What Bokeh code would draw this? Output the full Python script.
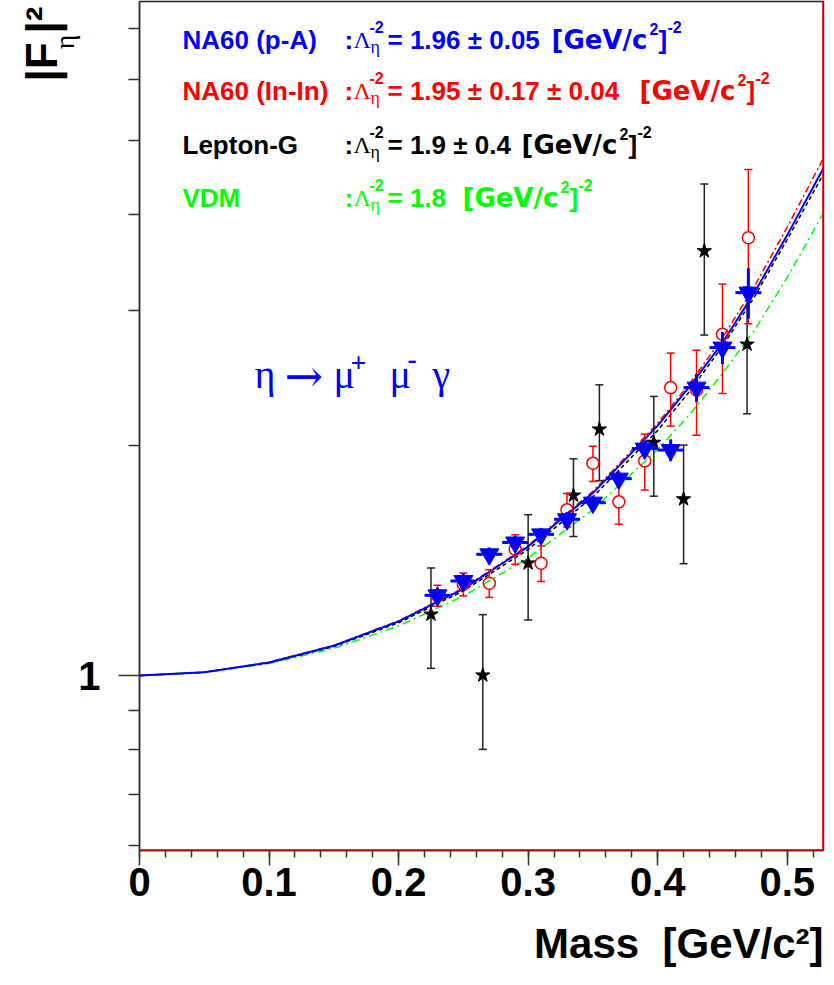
import math
from bokeh.plotting import figure
from bokeh.models import Label, Span, FixedTicker, ColumnDataSource, Title
from bokeh.embed import file_html
from bokeh.resources import INLINE

# fitted form factor curves
curve_x = [0.0, 0.05, 0.10, 0.15, 0.20, 0.25, 0.30, 0.35, 0.40, 0.425, 0.45, 0.475, 0.50, 0.528]
curve_na60_pa = [1.000, 1.010, 1.040, 1.094, 1.177, 1.298, 1.474, 1.731, 2.120, 2.390, 2.720, 3.170, 3.760, 4.600]
curve_na60_inin = [1.000, 1.010, 1.041, 1.095, 1.179, 1.301, 1.479, 1.740, 2.135, 2.410, 2.760, 3.230, 3.850, 4.740]
curve_lepton = [1.000, 1.010, 1.039, 1.091, 1.172, 1.290, 1.461, 1.711, 2.090, 2.355, 2.690, 3.130, 3.710, 4.520]
curve_vdm = [1.000, 1.009, 1.037, 1.085, 1.161, 1.270, 1.424, 1.646, 1.973, 2.195, 2.480, 2.830, 3.310, 4.020]

# NA60 p-A (blue triangles)
pa_x = [0.23, 0.25, 0.27, 0.29, 0.31, 0.33, 0.35, 0.37, 0.39, 0.41, 0.43, 0.45, 0.47]
pa_y = [1.273, 1.329, 1.440, 1.492, 1.529, 1.600, 1.682, 1.808, 1.979, 1.970, 2.377, 2.681, 3.163]
pa_err = [0.03, 0.03, 0.03, 0.03, 0.03, 0.035, 0.035, 0.04, 0.05, 0.065, 0.10, 0.13, 0.24]
pa_binhalf = 0.01

# NA60 In-In (red open circles)
inin_x = [0.23, 0.25, 0.27, 0.29, 0.31, 0.33, 0.35, 0.37, 0.39, 0.41, 0.43, 0.45, 0.47]
inin_y = [1.272, 1.316, 1.320, 1.462, 1.402, 1.646, 1.893, 1.686, 1.907, 2.377, 2.360, 2.790, 3.730]
inin_err = [0.04, 0.045, 0.055, 0.065, 0.075, 0.083, 0.10, 0.11, 0.16, 0.26, 0.30, 0.455, 0.85]

# Lepton-G (black stars)
lg_x = [0.225, 0.265, 0.300, 0.335, 0.355, 0.397, 0.420, 0.436, 0.469]
lg_y = [1.202, 1.001, 1.402, 1.719, 2.097, 2.015, 1.700, 3.584, 2.707]
lg_err = [0.18, 0.20, 0.22, 0.20, 0.30, 0.30, 0.30, 0.80, 0.51]

x_ticks = [0, 0.1, 0.2, 0.3, 0.4, 0.5]
x_tick_labels = ["0", "0.1", "0.2", "0.3", "0.4", "0.5"]

legend_names = ["NA60 (p-A)", "NA60 (In-In)", "Lepton-G", "VDM"]
legend_values = ["= 1.96 \u00b1 0.05", "= 1.95 \u00b1 0.17 \u00b1 0.04", "= 1.9 \u00b1 0.4", "= 1.8"]
legend_colors = ["#0000ff", "#ff0000", "#000000", "#00ff00"]

X0, X1 = 0.0, 0.528
Y0, Y1 = 0.591, 7.59
W, H = 826, 969
BL, BR, BT, BB = 139, 3, 1, 119

# page pixel -> data, for placing the texts
L, R, T, B = 8 + BL, 8 + W - BR, 8 + BT, 8 + H - BB
def px_x(px):
    return X0 + (px - L) / (R - L) * (X1 - X0)
def px_y(py):
    ly0, ly1 = math.log10(Y0), math.log10(Y1)
    return 10 ** (ly1 - (py - T) / (B - T) * (ly1 - ly0))

p = figure(width=W, height=H, x_range=(X0, X1), y_range=(Y0, Y1),
           y_axis_type="log", output_backend="svg", toolbar_location=None,
           min_border_left=BL, min_border_right=BR, min_border_top=BT,
           min_border_bottom=BB)
p.grid.visible = False
p.outline_line_color = "#222222"
p.outline_line_width = 1.5

FONT = "Liberation Sans"
SERIF = "Liberation Serif"

# axes
p.xaxis.ticker = FixedTicker(ticks=x_ticks, minor_ticks=[i * 0.02 for i in range(27)])
p.xaxis.major_label_overrides = dict(zip(x_ticks, x_tick_labels))
p.yaxis.ticker = FixedTicker(ticks=[1], minor_ticks=[0.6, 0.7, 0.8, 0.9, 2, 3, 4, 5, 6, 7])
p.yaxis.major_label_overrides = {1: "1"}
for ax in (p.xaxis, p.yaxis):
    ax.axis_line_color = "#333333"
    ax.axis_line_width = 1.5
    ax.major_tick_line_color = "#333333"
    ax.minor_tick_line_color = "#333333"
    ax.major_tick_line_width = 1.5
    ax.minor_tick_line_width = 1.5
    ax.major_tick_in = 0
    ax.minor_tick_in = 0
    ax.major_label_text_font = FONT
    ax.major_label_text_font_style = "bold"
    ax.major_label_text_font_size = "40px"
    ax.major_label_text_color = "black"
p.xaxis.major_tick_out = 15
p.xaxis.minor_tick_out = 7
p.xaxis.major_label_standoff = 2
p.yaxis.major_tick_out = 21
p.yaxis.minor_tick_out = 11
p.yaxis.major_label_standoff = 18

# axis titles live in the side panels (a blank title works as a spacer)
p.add_layout(Title(text="\u00a0", text_font_size="1px", standoff=16), "below")
p.add_layout(Title(text="Mass\u00a0\u00a0[GeV/c\u00b2]", align="right", text_font=FONT,
                   text_font_style="bold", text_font_size="42px", text_color="black",
                   standoff=0), "below")
p.add_layout(Title(text="\u03b7", align="right", vertical_align="top", text_font=SERIF,
                   text_font_style="normal", text_font_size="28px", text_color="black",
                   standoff=-13, offset=33), "left")
p.add_layout(Title(text="|F\u2009|\u00b2", align="right", text_font=FONT,
                   text_font_style="bold", text_font_size="44px", text_color="black",
                   standoff=-20, offset=5), "left")

# red frame edges
p.add_layout(Span(location=X1, dimension="height", line_color="#ff0000", line_width=2.5))
p.add_layout(Span(location=Y0, dimension="width", line_color="#ff0000", line_width=2.5))

# curves
p.line(curve_x, curve_vdm, line_color="#00ff00", line_width=1.5, line_dash="8 4 2 4")
p.line(curve_x, curve_lepton, line_color="#000000", line_width=1.5, line_dash="4 3")
p.line(curve_x, curve_na60_inin, line_color="#ff0000", line_width=1.5, line_dash="7 3 2 3")
p.line(curve_x, curve_na60_pa, line_color="#0000ff", line_width=2)

# Lepton-G
lg = ColumnDataSource(dict(x=lg_x, y=lg_y,
                           lo=[y - e for y, e in zip(lg_y, lg_err)],
                           hi=[y + e for y, e in zip(lg_y, lg_err)]))
p.segment(x0="x", y0="lo", x1="x", y1="hi", source=lg, line_color="#222222", line_width=1.5)
p.scatter(x="x", y="lo", source=lg, marker="dash", size=8, line_color="#222222", line_width=1.5)
p.scatter(x="x", y="hi", source=lg, marker="dash", size=8, line_color="#222222", line_width=1.5)
p.scatter(x="x", y="y", source=lg, marker="star", size=15, fill_color="black", line_color="black")

# NA60 In-In, bars stop at the circle edge
gap = 1.018
inin = ColumnDataSource(dict(x=inin_x, y=inin_y,
                             lo=[y - e for y, e in zip(inin_y, inin_err)],
                             hi=[y + e for y, e in zip(inin_y, inin_err)],
                             lo_in=[y / gap for y in inin_y],
                             hi_in=[y * gap for y in inin_y]))
p.segment(x0="x", y0="lo", x1="x", y1="lo_in", source=inin, line_color="#ff0000", line_width=1.5)
p.segment(x0="x", y0="hi_in", x1="x", y1="hi", source=inin, line_color="#ff0000", line_width=1.5)
p.scatter(x="x", y="lo", source=inin, marker="dash", size=8, line_color="#ff0000", line_width=1.5)
p.scatter(x="x", y="hi", source=inin, marker="dash", size=8, line_color="#ff0000", line_width=1.5)
p.scatter(x="x", y="y", source=inin, marker="circle", size=12, fill_alpha=0,
          line_color="#ff0000", line_width=1.5)

# NA60 p-A
xgap = 0.005
pa = ColumnDataSource(dict(x=pa_x, y=pa_y,
                           lo=[y - e for y, e in zip(pa_y, pa_err)],
                           hi=[y + e for y, e in zip(pa_y, pa_err)],
                           xl0=[x - pa_binhalf for x in pa_x], xl1=[x - xgap for x in pa_x],
                           xr0=[x + xgap for x in pa_x], xr1=[x + pa_binhalf for x in pa_x]))
p.segment(x0="xl0", y0="y", x1="xl1", y1="y", source=pa, line_color="#0000ff", line_width=3)
p.segment(x0="xr0", y0="y", x1="xr1", y1="y", source=pa, line_color="#0000ff", line_width=3)
p.segment(x0="x", y0="lo", x1="x", y1="hi", source=pa, line_color="#0000ff", line_width=3)
p.scatter(x="x", y="y", source=pa, marker="inverted_triangle", size=19,
          fill_color="#0000ff", line_color="#0000ff")

def label(px, py, text, color="black", size=26, font=FONT, style="bold"):
    p.add_layout(Label(x=px_x(px), y=px_y(py), text=text, text_color=color,
                       text_font=font, text_font_style=style, text_font_size=f"{size}px",
                       text_align="left", text_baseline="alphabetic"))

# legend lines
bases = [47, 98, 152, 205]
bracket_x = [559, 647, 529, 470]
for name, val, col, base, bx in zip(legend_names, legend_values, legend_colors, bases, bracket_x):
    label(190, base, name, col)
    label(352, base, ":", col)
    label(361, base, "\u039b", col, size=24, font=SERIF, style="normal")
    label(377, base - 13, "-2", col, size=16)
    label(378, base + 7, "\u03b7", col, size=18, font=SERIF, style="normal")
    label(395, base, val, col)
    label(bx, base, "[GeV/c", col, size=26, font="DejaVu Sans")
    label(bx + 98, base - 11, "2", col, size=16)
    label(bx + 107, base, "]", col)
    label(bx + 116, base - 13, "-2", col, size=16)

# decay label
BLUE = "#0000ff"
label(262, 382, "\u03b7", BLUE, size=40, font=SERIF, style="normal")
label(292, 383, "\u2192", BLUE, size=46, font="DejaVu Serif", style="normal")
label(341, 382, "\u03bc", BLUE, size=40, font=SERIF, style="normal")
label(358, 370, "+", BLUE, size=28, font=SERIF, style="bold")
label(397, 382, "\u03bc", BLUE, size=40, font=SERIF, style="normal")
label(415, 366, "-", BLUE, size=28, font=SERIF, style="bold")
label(440, 382, "\u03b3", BLUE, size=40, font=SERIF, style="normal")

open("out.html", "w").write(file_html(p, INLINE))
